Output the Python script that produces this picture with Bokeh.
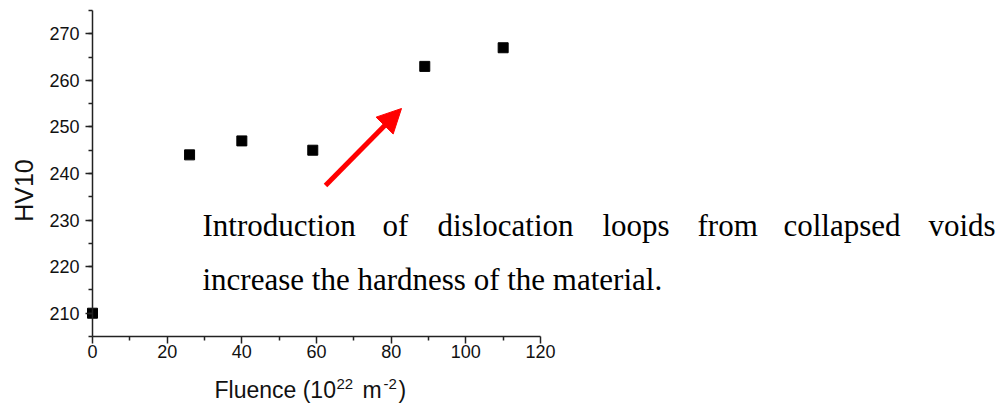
from bokeh.plotting import figure
from bokeh.models import Range1d, SingleIntervalTicker, FixedTicker, Label, Arrow, NormalHead
from bokeh.embed import file_html
from bokeh.resources import INLINE

# ---------------- data ----------------
fluence = [0, 26, 40, 59, 89, 110]
hv10 = [210, 244, 247, 245, 263, 267]
x_axis_vals = [0, 120]
y_axis_vals = [205, 275]
x_major_ticks = [0, 20, 40, 60, 80, 100, 120]
x_minor_ticks = [10, 30, 50, 70, 90, 110]
x_label_parts = ["Fluence (10", "22", "m", "-2", ")"]
y_label = "HV10"
note_line1 = ["Introduction", "of", "dislocation", "loops", "from", "collapsed", "voids"]
note_line2 = "increase the hardness of the material."

# ---------------- layout ----------------
W, H = 999, 412
AX_L, AX_R = 92, 540     # pixel x of fluence 0 and 120
AX_T, AX_B = 10, 336     # pixel y of HV 275 and 205

X0, X1 = x_axis_vals
Y0, Y1 = y_axis_vals


def dx(px):
    return X0 + (px - AX_L) / (AX_R - AX_L) * (X1 - X0)


def dy(py):
    return Y0 + (AX_B - py) / (AX_B - AX_T) * (Y1 - Y0)


# the frame covers the whole canvas so annotation texts are never clipped;
# axes are pinned at fixed locations with bounds
p = figure(width=W, height=H, output_backend="svg", toolbar_location=None,
           x_range=Range1d(dx(0), dx(W)), y_range=Range1d(dy(H), dy(0)),
           min_border=0)
p.outline_line_color = None
p.xgrid.visible = False
p.ygrid.visible = False
p.background_fill_color = "white"
p.border_fill_color = "white"

p.xaxis.ticker = FixedTicker(ticks=x_major_ticks, minor_ticks=x_minor_ticks)
p.xaxis.bounds = (X0, X1)
p.xaxis.fixed_location = Y0
p.yaxis.ticker = SingleIntervalTicker(interval=10, num_minor_ticks=2)
p.yaxis.bounds = (Y0, Y1)
p.yaxis.fixed_location = X0
for ax in (p.xaxis[0], p.yaxis[0]):
    ax.axis_line_color = "#222222"
    ax.axis_line_width = 1.5
    ax.major_tick_line_color = "#222222"
    ax.major_tick_line_width = 1.5
    ax.minor_tick_line_color = "#222222"
    ax.minor_tick_line_width = 1.5
    ax.major_tick_in = 0
    ax.major_tick_out = 7
    ax.minor_tick_in = 0
    ax.minor_tick_out = 4
    ax.major_label_text_font = "Liberation Sans"
    ax.major_label_text_font_size = "18px"
    ax.major_label_text_color = "#111111"
p.xaxis.major_label_standoff = 1
p.yaxis.major_label_standoff = 6

p.scatter(fluence, hv10, marker="square", size=10, color="black")

# red arrow annotation
p.add_layout(Arrow(end=NormalHead(size=24, fill_color="red", line_color="red", line_width=1),
                   x_start=dx(325), y_start=dy(185), x_end=dx(401), y_end=dy(108),
                   line_color="red", line_width=5))


def label(txt, px, baseline_py, fs, font, color="black"):
    # empirical correction so that baseline_py is the visible baseline
    py = baseline_py - 0.4 * fs
    p.add_layout(Label(x=dx(px), y=dy(py), text=txt, text_font=font,
                       text_font_size=f"{fs}px", text_color=color,
                       text_align="left", text_baseline="alphabetic"))


# annotation text (justified first line)
serif = "Liberation Serif"
word_px = [202, 382, 437, 602, 697, 783, 928]
for wtxt, wx in zip(note_line1, word_px):
    label(wtxt, wx, 237, 31, serif)
label(note_line2, 202, 291, 31, serif)

# x axis title with superscripts
sans = "Liberation Sans"
xl_layout = [(214, 399, 23), (336, 389, 15), (362, 399, 23), (383, 389, 15), (398, 399, 23)]
for txt, (px, py, fs) in zip(x_label_parts, xl_layout):
    label(txt, px, py, fs, sans, "#111111")

# y axis title
p.add_layout(Label(x=dx(23), y=dy(190), text=y_label, angle=1.5707963,
                   text_font=sans, text_font_size="25px",
                   text_color="#111111", text_align="center", text_baseline="middle"))

open("out.html", "w").write(file_html(p, INLINE))
